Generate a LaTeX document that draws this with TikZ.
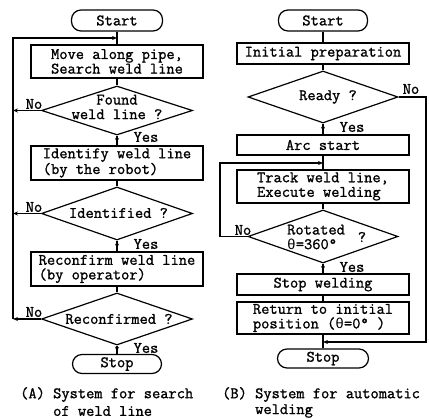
\documentclass[tikz,border=0pt]{standalone}
\usepackage{fontspec}
\newfontfamily\tw{Latin Modern Mono}[FakeBold=1.2]
\newfontfamily\gr{Liberation Mono}[Scale=0.9]
\newcommand{\thet}{\smash{{\gr θ}}}
\usetikzlibrary{shapes.geometric,arrows.meta,decorations.markings}
\begin{document}
\begin{tikzpicture}[x=1pt,y=-1pt,
  every node/.style={font=\tw\fontsize{16}{14.6}\selectfont, inner sep=0pt},
  line/.style={line width=1.2pt},
  box/.style={draw, line width=1.2pt, rectangle, minimum width=172pt},
  term/.style={draw, line width=1.2pt, rounded corners=9.5pt},
  dia/.style={draw, line width=1.2pt, diamond},
  tip/.style={-{Stealth[length=5pt,width=4pt]}},
  midarrow/.style={postaction={decorate}, decoration={markings, mark=at position 0.75 with {\arrow{Stealth[length=5pt,width=4pt]}}}}
]
\useasboundingbox (0,0) rectangle (429,419);

% ---------- (A) ----------
\node[term, minimum width=91pt, minimum height=21pt] (startA) at (117,20.5) {Start};
\node[box, minimum height=33pt, align=center] (boxA1) at (117,61.5) {Move along pipe,\\Search weld line};
\node[dia, minimum width=151pt, minimum height=49pt] (dA1) at (117,110.5) {};
\node[align=center] (tA1) at (117,107) {Found\\weld line ?};
\node[box, minimum height=34pt, align=left] (boxA2) at (117,163) {Identify weld line\\(by the robot)};
\node[dia, minimum width=151pt, minimum height=53pt] (dA2) at (117,213.5) {};
\node (tA2) at (118.5,213) {Identified ?};
\node[box, minimum height=34pt, align=left] (boxA3) at (117,269) {Reconfirm weld line\\(by operator)};
\node[dia, minimum width=151pt, minimum height=52pt] (dA3) at (117,319) {};
\node (tA3) at (119,319) {Reconfirmed ?};
\node[term, minimum width=89pt, minimum height=19pt] (stopA) at (117,364) {Stop};

\node (noA1) at (34,104) {No};
\node (noA2) at (34,207) {No};
\node (noA3) at (34,312) {No};
\node (yesA1) at (146,137) {Yes};
\node (yesA2) at (146,244) {Yes};
\node (yesA3) at (146,348) {Yes};

\coordinate (cTop) at (13,38);
\coordinate (jA) at (117,38);
\draw[line] (startA) -- (boxA1);
\draw[line] (boxA1) -- (dA1);
\draw[line, midarrow] (dA1) -- (boxA2);
\draw[line] (boxA2) -- (dA2);
\draw[line, midarrow] (dA2) -- (boxA3);
\draw[line] (boxA3) -- (dA3);
\draw[line, midarrow] (dA3) -- (stopA);
\draw[line, tip] (dA1.west) -- (cTop |- dA1.west);
\draw[line, tip] (dA2.west) -- (cTop |- dA2.west);
\draw[line, tip] (dA3.west) -- (cTop |- dA3.west);
\draw[line, tip] (cTop |- dA3.west) -- (cTop) -- (jA);

\node[anchor=west] (capA1) at (20,394.5) {(A) System for search};
\node[anchor=west] (capA2) at (53,411) {of weld line};

% ---------- (B) ----------
\node[term, minimum width=89pt, minimum height=21pt] (startB) at (323,20.5) {Start};
\node[box, minimum height=21pt] (boxB1) at (323,53.5) {Initial preparation};
\node[dia, minimum width=150pt, minimum height=52pt] (dB1) at (323,97) {};
\node (tB1) at (328,97) {Ready ?};
\node[box, minimum height=20pt] (boxB2) at (323,145) {Arc start};
\node[box, minimum height=33pt, align=left] (boxB3) at (323,186.5) {Track weld line,\\Execute welding};
\node[dia, minimum width=150pt, minimum height=53pt] (dB2) at (323,236.5) {};
\node[anchor=west, align=left] (tB2) at (287,237) {Rotated\\\thet=360°};
\node (qB2) at (362,237) {?};
\node[box, minimum height=21pt] (boxB4) at (323,284.5) {Stop welding};
\node[box, minimum height=32pt, align=left] (boxB5) at (323,318) {Return to initial\\position (\thet=0° )};
\node[term, minimum width=91pt, minimum height=19pt] (stopB) at (323,358.5) {Stop};

\node (noB1) at (411,89) {No};
\node (yesB1) at (352,127) {Yes};
\node (noB2) at (243,230) {No};
\node (yesB2) at (352,267) {Yes};

\coordinate (rB) at (426,342);
\coordinate (mB) at (323,342);
\coordinate (lB) at (220,163);
\coordinate (jB) at (323,163);
\draw[line] (startB) -- (boxB1);
\draw[line] (boxB1) -- (dB1);
\draw[line, midarrow] (dB1) -- (boxB2);
\draw[line] (boxB2) -- (boxB3);
\draw[line] (boxB3) -- (dB2);
\draw[line, midarrow] (dB2) -- (boxB4);
\draw[line] (boxB4) -- (boxB5);
\draw[line] (boxB5) -- (stopB);
\draw[line, tip] (dB1.east) -- (dB1.east -| rB) -- (rB) -- (mB);
\draw[line, tip] (dB2.west) -- (dB2.west -| lB) -- (lB) -- (jB);

\node[anchor=west] (capB1) at (222,394.5) {(B) System for automatic};
\node[anchor=west] (capB2) at (255,411) {welding};
\end{tikzpicture}
\end{document}
